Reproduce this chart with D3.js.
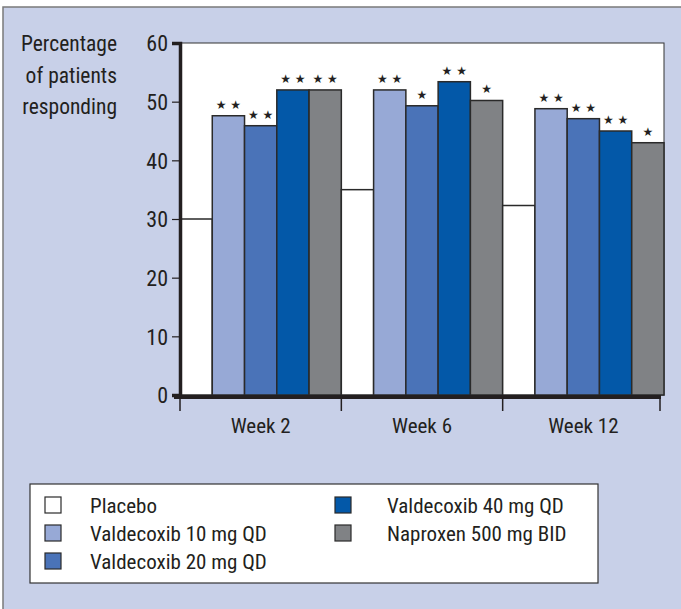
<!DOCTYPE html>
<html>
<head>
<meta charset="utf-8">
<script src="https://cdn.jsdelivr.net/npm/d3@7"></script>
<style>
  body { margin: 0; background: #fff; }
  svg text { font-family: "Liberation Sans Narrow", "Roboto Condensed", "Liberation Sans", sans-serif; fill: #231f20; }
</style>
</head>
<body>
<svg width="681" height="609"></svg>
<script>
let weeks = ["Week 2", "Week 6", "Week 12"];
let groups = ["Placebo", "Valdecoxib 10 mg QD", "Valdecoxib 20 mg QD", "Valdecoxib 40 mg QD", "Naproxen 500 mg BID"];
let colors = ["#ffffff", "#97a9d6", "#4a73b8", "#0358a8", "#808285"];
let placebo = [30, 35, 32.3];
let valdecoxib10 = [47.6, 52, 48.8];
let valdecoxib20 = [45.9, 49.3, 47.1];
let valdecoxib40 = [52, 53.4, 45];
let naproxen = [52, 50.2, 43];
let stars = [
  ["", "★ ★", "★ ★", "★ ★", "★ ★"],
  ["", "★ ★", "★", "★ ★", "★"],
  ["", "★ ★", "★ ★", "★ ★", "★"]
];
let yTicks = [0, 10, 20, 30, 40, 50, 60];

let series = [placebo, valdecoxib10, valdecoxib20, valdecoxib40, naproxen];
let data = [];
weeks.forEach((w, i) => {
  groups.forEach((g, j) => {
    data.push({ week: w, group: g, value: series[j][i], star: stars[i][j] });
  });
});

let svg = d3.select("svg");

// panel background
svg.append("rect")
  .attr("x", 3).attr("y", 7)
  .attr("width", 690).attr("height", 620)
  .attr("fill", "#c8d0e8")
  .attr("stroke", "#7a7a7a")
  .attr("stroke-width", 1.5);

let plotLeft = 180, plotRight = 664, plotTop = 43, plotBottom = 395;

let x0 = d3.scaleBand().domain(weeks).range([plotLeft, plotRight]).paddingInner(0).paddingOuter(0);
let x1 = d3.scaleBand().domain(groups).range([0, x0.bandwidth()]).padding(0);
let y = d3.scaleLinear().domain([0, 60]).range([plotBottom, plotTop]);
let color = d3.scaleOrdinal().domain(groups).range(colors);

// plot area
svg.append("rect")
  .attr("x", plotLeft).attr("y", plotTop)
  .attr("width", plotRight - plotLeft).attr("height", plotBottom - plotTop)
  .attr("fill", "#fff")
  .attr("stroke", "#333").attr("stroke-width", 1);

let g = svg.append("g");

g.selectAll(".bar")
  .data(data)
  .enter()
  .append("rect")
  .attr("class", "bar")
  .attr("x", d => x0(d.week) + x1(d.group))
  .attr("y", d => y(d.value))
  .attr("width", x1.bandwidth())
  .attr("height", d => y(0) - y(d.value))
  .attr("fill", d => color(d.group))
  .attr("stroke", "#2a2a2a")
  .attr("stroke-width", 1.5);

g.selectAll(".star")
  .data(data.filter(d => d.star))
  .enter()
  .append("text")
  .attr("class", "star")
  .attr("x", d => x0(d.week) + x1(d.group) + x1.bandwidth() / 2)
  .attr("y", d => y(d.value) - 7)
  .attr("text-anchor", "middle")
  .style("font-family", "DejaVu Sans, sans-serif")
  .style("font-size", "12px")
  .text(d => d.star);

// y axis
let yAxis = svg.append("g")
  .attr("transform", "translate(" + plotLeft + ",0)")
  .call(d3.axisLeft(y).tickValues(yTicks).tickSize(8).tickPadding(4));
yAxis.select(".domain").attr("stroke", "#231f20").attr("stroke-width", 3.5);
yAxis.selectAll(".tick line").attr("stroke", "#231f20").attr("stroke-width", 1.2);
yAxis.selectAll(".tick text").style("font-size", "22px").attr("dy", "0.35em");

// x axis
svg.append("line")
  .attr("x1", 174).attr("x2", 661)
  .attr("y1", 397).attr("y2", 397)
  .attr("stroke", "#231f20").attr("stroke-width", 4);

let xEdges = weeks.map(w => x0(w)).concat([x0(weeks[weeks.length - 1]) + x0.bandwidth() - 4]);
svg.selectAll(".xtick")
  .data(xEdges)
  .enter()
  .append("line")
  .attr("x1", d => d).attr("x2", d => d)
  .attr("y1", 397).attr("y2", 411)
  .attr("stroke", "#231f20").attr("stroke-width", 1.5);

svg.selectAll(".xlabel")
  .data(weeks)
  .enter()
  .append("text")
  .attr("x", d => x0(d) + x0.bandwidth() / 2)
  .attr("y", 433)
  .attr("text-anchor", "middle")
  .style("font-size", "21px")
  .text(d => d);

// y title
let title = ["Percentage", "of patients", "responding"];
svg.selectAll(".ytitle")
  .data(title)
  .enter()
  .append("text")
  .attr("x", 117)
  .attr("y", (d, i) => 51 + i * 31.5)
  .attr("text-anchor", "end")
  .style("font-size", "21.5px")
  .text(d => d);

// legend
svg.append("rect")
  .attr("x", 30).attr("y", 484)
  .attr("width", 568).attr("height", 99)
  .attr("fill", "#fff")
  .attr("stroke", "#333").attr("stroke-width", 1.2);

let legendPos = [[45, 505], [45, 533], [45, 561], [335, 505], [335, 533]];
let legend = svg.selectAll(".legend")
  .data(groups)
  .enter()
  .append("g")
  .attr("class", "legend")
  .attr("transform", (d, i) => "translate(" + legendPos[i][0] + "," + legendPos[i][1] + ")");

legend.append("rect")
  .attr("x", 0).attr("y", -8)
  .attr("width", 16).attr("height", 16)
  .attr("fill", d => color(d))
  .attr("stroke", "#2a2a2a").attr("stroke-width", 1.2);

legend.append("text")
  .attr("x", (d, i) => i < 3 ? 45 : 52)
  .attr("y", 0)
  .attr("dy", "0.36em")
  .style("font-size", "21px")
  .text(d => d);
</script>
</body>
</html>
